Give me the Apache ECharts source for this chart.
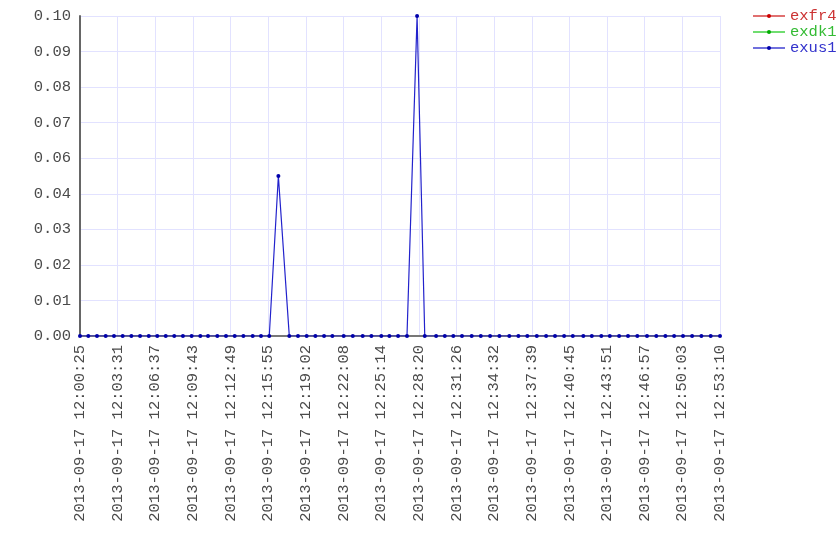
<!DOCTYPE html>
<html>
<head>
<meta charset="utf-8">
<script src="https://cdn.jsdelivr.net/npm/echarts@6/dist/echarts.min.js"></script>
<style>
  html, body { margin: 0; padding: 0; background: #fff; }
  #chart { width: 840px; height: 560px; }
</style>
</head>
<body>
<div id="chart"></div>
<script>
// sample times (2013-09-17)
const times = [
  '12:00:25', '12:01:06', '12:01:49', '12:02:32', '12:03:13', '12:03:56', '12:04:39', '12:05:22',
  '12:06:05', '12:06:47', '12:07:29', '12:08:11', '12:08:54', '12:09:37', '12:10:20', '12:10:58',
  '12:11:44', '12:12:27', '12:13:10', '12:13:53', '12:14:39', '12:15:20', '12:16:01', '12:16:46',
  '12:17:40', '12:18:23', '12:19:06', '12:19:49', '12:20:32', '12:21:13', '12:22:09', '12:22:54',
  '12:23:43', '12:24:26', '12:25:15', '12:25:55', '12:26:38', '12:27:22', '12:28:12', '12:28:50',
  '12:29:46', '12:30:29', '12:31:11', '12:31:54', '12:32:42', '12:33:27', '12:34:13', '12:34:59',
  '12:35:48', '12:36:33', '12:37:17', '12:38:04', '12:38:50', '12:39:34', '12:40:19', '12:41:02',
  '12:41:54', '12:42:36', '12:43:23', '12:44:05', '12:44:51', '12:45:35', '12:46:21', '12:47:09',
  '12:47:55', '12:48:40', '12:49:23', '12:50:07', '12:50:52', '12:51:38', '12:52:24', '12:53:10'
]
const exus1 = [
  0, 0, 0, 0, 0, 0, 0, 0, 0, 0, 0, 0, 0, 0, 0, 0,
  0, 0, 0, 0, 0, 0, 0, 0.05, 0, 0, 0, 0, 0, 0, 0, 0,
  0, 0, 0, 0, 0, 0, 0.10, 0, 0, 0, 0, 0, 0, 0, 0, 0,
  0, 0, 0, 0, 0, 0, 0, 0, 0, 0, 0, 0, 0, 0, 0, 0,
  0, 0, 0, 0, 0, 0, 0, 0
]
const exfr4 = []
const exdk1 = []

const seriesNames = ['exfr4', 'exdk1', 'exus1']
const lineColors = ['#e06060', '#60d060', '#2222cc']
const legendLineColors = ['#e07070', '#70dd70', '#7070dd']
const dotColors = ['#cc0000', '#00aa00', '#0000aa']
const textColors = ['#cc3333', '#33bb33', '#3333cc']

const DATE = '2013-09-17'
const toSec = s => {
  const p = s.split(':').map(Number)
  return p[0] * 3600 + p[1] * 60 + p[2]
}
const t0 = toSec(times[0])
const tEnd = toSec(times[times.length - 1])
const pad = n => (n < 10 ? '0' : '') + n
const fmtTime = v => {
  const s = Math.floor(Math.round(v * 1000) / 1000) + t0
  return DATE + ' ' + pad(Math.floor(s / 3600)) + ':' + pad(Math.floor(s / 60) % 60) + ':' + pad(s % 60)
}
const pts = arr => arr.map((v, i) => [toSec(times[i]) - t0, v])
const allData = [pts(exfr4), pts(exdk1), pts(exus1)]

const font = 'Liberation Mono'
const fs = 15.5
const chart = echarts.init(document.getElementById('chart'))
chart.setOption({
  animation: false,
  backgroundColor: '#fff',
  grid: { left: 80, right: 120, top: 16, bottom: 224 },
  legend: {
    orient: 'vertical',
    left: 752,
    top: 8,
    padding: 0,
    itemWidth: 32,
    itemHeight: 5,
    itemGap: 0,
    data: seriesNames.map((n, i) => ({
      name: n,
      lineStyle: { color: legendLineColors[i], width: 2 },
      itemStyle: { color: dotColors[i] },
      textStyle: { color: textColors[i], fontFamily: font, fontSize: fs, lineHeight: 15 }
    }))
  },
  xAxis: {
    type: 'value',
    min: 0,
    max: tEnd - t0,
    interval: (tEnd - t0) / 17,
    axisLine: { lineStyle: { color: '#777', width: 2 } },
    axisTick: { show: false },
    splitLine: { show: true, lineStyle: { color: '#e2e2ff', width: 1 } },
    axisLabel: {
      rotate: 90,
      margin: 9,
      color: '#4a4a4a',
      fontFamily: font,
      fontSize: fs,
      formatter: fmtTime
    }
  },
  yAxis: {
    type: 'value',
    min: 0,
    max: 0.1,
    interval: 0.1 / 9,
    axisLine: { show: true, lineStyle: { color: '#666', width: 2 } },
    axisTick: { show: false },
    splitLine: { show: true, lineStyle: { color: '#e2e2ff', width: 1 } },
    axisLabel: {
      margin: 9,
      color: '#4a4a4a',
      fontFamily: font,
      fontSize: fs,
      formatter: v => v.toFixed(2)
    }
  },
  series: seriesNames.map((n, i) => ({
    name: n,
    type: 'line',
    data: allData[i],
    symbol: 'circle',
    symbolSize: 4,
    showSymbol: true,
    color: dotColors[i],
    itemStyle: { color: dotColors[i] },
    lineStyle: { color: lineColors[i], width: 1.2 }
  }))
})
</script>
</body>
</html>
